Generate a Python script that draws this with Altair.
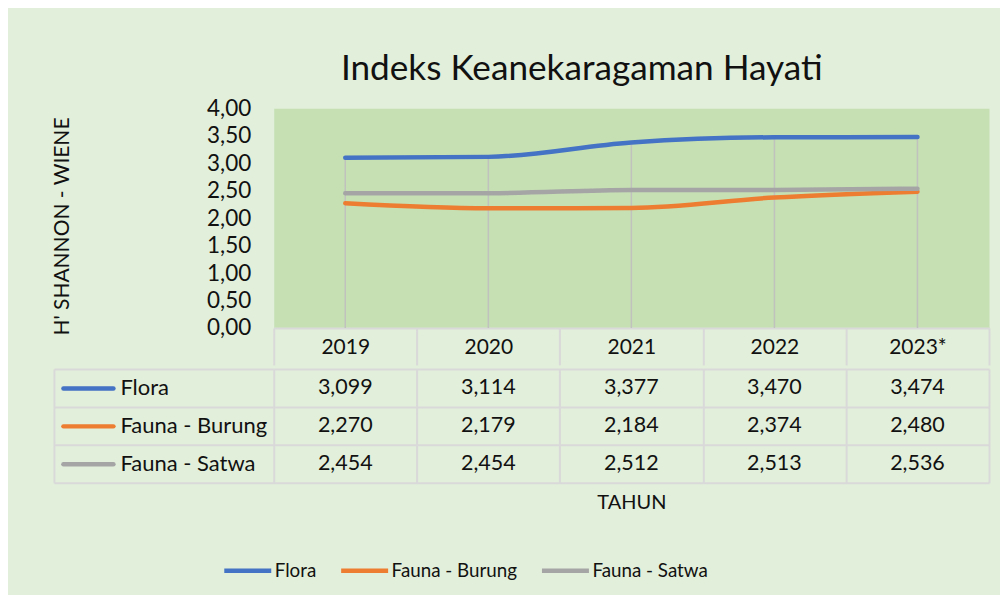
import altair as alt
import pandas as pd

# ---- data ----
years = ["2019", "2020", "2021", "2022", "2023*"]
series = ["Flora", "Fauna - Burung", "Fauna - Satwa"]
flora = [3.099, 3.114, 3.377, 3.470, 3.474]
fauna_burung = [2.270, 2.179, 2.184, 2.374, 2.480]
fauna_satwa = [2.454, 2.454, 2.512, 2.513, 2.536]
y_ticks = [0, 0.5, 1, 1.5, 2, 2.5, 3, 3.5, 4]

colors = ["#4472C4", "#ED7D31", "#A5A5A5"]

rows = []
for s, vals in zip(series, [flora, fauna_burung, fauna_satwa]):
    for yr, v in zip(years, vals):
        rows.append({"year": yr, "series": s, "value": v,
                     "label": f"{v:.3f}".replace(".", ",")})
df = pd.DataFrame(rows)

FONT = "Lato"
TXT = "#111111"
GRID = "#D9D9D9"

xscale = alt.Scale(domain=years, paddingInner=0, paddingOuter=0)
color_scale = alt.Scale(domain=series, range=colors)
row_scale = alt.Scale(domain=series, paddingInner=0, paddingOuter=0)

base = alt.Chart(df)

# ---- line chart ----
x_axis_header = alt.Axis(
    title="", labelFont=FONT, labelFontSize=21, labelColor=TXT, labelAngle=0,
    labelBaseline="middle", labelPadding=-17.5, tickBand="extent", tickSize=37,
    tickColor=GRID, tickWidth=2, domainColor=GRID, domainWidth=2, grid=False)

y_axis = alt.Axis(
    title="H' SHANNON - WIENE", values=y_ticks,
    labelExpr="replace(format(datum.value, '.2f'), '.', ',')",
    labelFont=FONT, labelFontSize=22.5, labelColor=TXT, labelPadding=23,
    ticks=False, domain=False, grid=False,
    titleFont=FONT, titleFontSize=21, titleFontWeight="normal", titleColor=TXT,
    titlePadding=134, titleY=118)

drop = base.mark_rule(color="#BFBFBF", strokeWidth=1.5, opacity=0.9).encode(
    x=alt.X("year:N", scale=xscale, sort=years, axis=x_axis_header),
    y=alt.Y("max(value):Q", scale=alt.Scale(domain=[0, 4], nice=False), axis=y_axis),
    y2=alt.datum(0),
)

lines = base.mark_line(strokeWidth=4.5, interpolate="monotone", strokeCap="round").encode(
    x=alt.X("year:N", scale=xscale, sort=years, axis=x_axis_header),
    y=alt.Y("value:Q", scale=alt.Scale(domain=[0, 4], nice=False), axis=y_axis),
    color=alt.Color("series:N", scale=color_scale, sort=series,
                    legend=alt.Legend(
                        title=None, orient="none", direction="horizontal",
                        legendX=-52, legendY=437,
                        symbolType="stroke", symbolStrokeWidth=4.5, symbolSize=2209,
                        labelFont=FONT, labelFontSize=18.8, labelColor=TXT,
                        labelOffset=1, columnPadding=15, padding=0, labelLimit=0)),
)

line_chart = alt.layer(drop, lines).properties(
    width=716, height=220,
    view=alt.ViewBackground(fill="#C6E0B4", stroke="transparent"))

# ---- data table ----
txt = base.mark_text(font=FONT, fontSize=21.5, color=TXT, baseline="middle").encode(
    x=alt.X("year:N", scale=xscale, sort=years,
            axis=alt.Axis(title="TAHUN", labels=False, ticks=False, domain=False,
                          grid=True, gridColor=GRID, gridWidth=2, tickBand="extent",
                          titleFont=FONT, titleFontSize=20, titleFontWeight="normal",
                          titleColor=TXT, titlePadding=10)),
    y=alt.Y("series:N", scale=row_scale, sort=series,
            axis=alt.Axis(title="", labels=False, domain=False, grid=True,
                          gridColor=GRID, gridWidth=2, tickBand="extent",
                          ticks=True, tickSize=220, tickColor=GRID, tickWidth=2)),
    text="label:N",
)

border = base.mark_point(opacity=0, size=1).encode(
    y=alt.Y("series:N", scale=row_scale, sort=series,
            axis=alt.Axis(title="", orient="left", offset=220, labels=False,
                          ticks=False, grid=False, domain=True,
                          domainColor=GRID, domainWidth=2)),
)

keys = base.mark_point(opacity=0, size=1).encode(
    y=alt.Y("series:N", scale=row_scale, sort=series,
            axis=alt.Axis(
                title="", orient="left", offset=161, domain=False, grid=False,
                ticks=True, tickSize=50, tickWidth=4.5, tickCap="round",
                tickColor={"condition": [
                    {"test": "datum.value === 'Flora'", "value": colors[0]},
                    {"test": "datum.value === 'Fauna - Burung'", "value": colors[1]}],
                    "value": colors[2]},
                labelAlign="left", labelBaseline="middle", labelPadding=-57,
                labelFont=FONT, labelFontSize=22, labelColor=TXT, labelLimit=0)),
)

table = alt.layer(txt, border, keys).resolve_scale(y="independent").properties(
    width=716, height=114,
    view=alt.ViewBackground(fill="transparent", stroke="transparent"))

chart = alt.vconcat(line_chart, table, spacing=0).resolve_scale(
    x="independent", y="independent"
).properties(
    title=alt.TitleParams("Indeks Keanekaragaman Hayati", font=FONT, fontSize=35.2,
                          fontWeight="normal", color=TXT, anchor="middle",
                          baseline="alphabetic", offset=-18, dx=61),
    padding={"left": 43, "top": 43, "right": 9, "bottom": 14},
).configure(background="#E2EFDA").configure_view(stroke="transparent")

chart.save("out.html", embed_options={"renderer": "svg", "actions": False})
